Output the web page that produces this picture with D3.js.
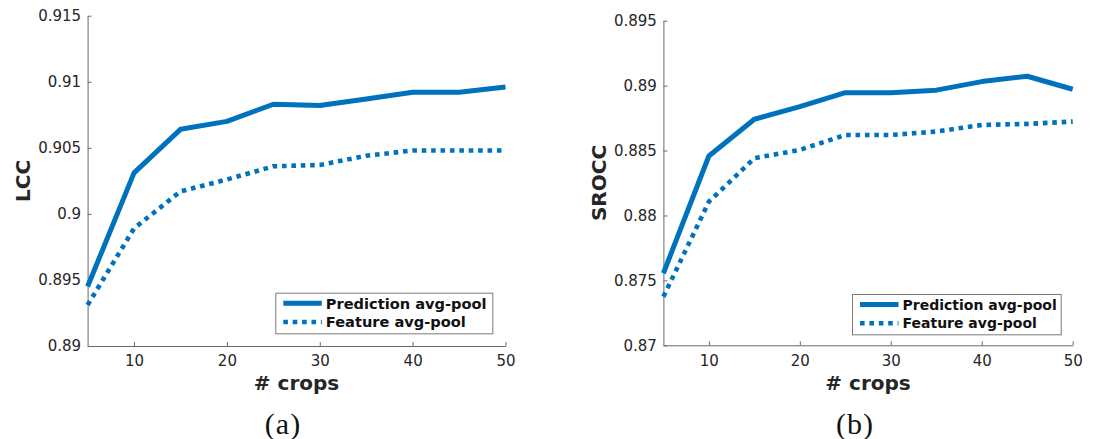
<!DOCTYPE html>
<html>
<head>
<meta charset="utf-8">
<script src="https://cdn.jsdelivr.net/npm/d3@7"></script>
<style>
  html, body { margin: 0; padding: 0; background: #fff; }
  svg { display: block; }
</style>
</head>
<body>
<svg id="chart" width="1093" height="439"></svg>
<script>
// Number of crops evaluated
const crops = [5, 10, 15, 20, 25, 30, 35, 40, 45, 50];

// (a) Linear correlation coefficient
const lccPrediction = [0.8945, 0.9031, 0.9064, 0.9070, 0.9083, 0.9082, 0.9087, 0.9092, 0.9092, 0.9096];
const lccFeature    = [0.8931, 0.8989, 0.9017, 0.9026, 0.9036, 0.9037, 0.9044, 0.9048, 0.9048, 0.9048];

// (b) Spearman rank-order correlation coefficient
const sroccPrediction = [0.87555, 0.88458, 0.88741, 0.88838, 0.88946, 0.88946, 0.88965, 0.89031, 0.89072, 0.88972];
const sroccFeature    = [0.87374, 0.88106, 0.88441, 0.88505, 0.88620, 0.88620, 0.88646, 0.88697, 0.88705, 0.88723];

// Axis ticks and their labels
const xTicks = [10, 20, 30, 40, 50];
const xTickLabels = ["10", "20", "30", "40", "50"];
const lccTicks = [0.89, 0.895, 0.9, 0.905, 0.91, 0.915];
const lccTickLabels = ["0.89", "0.895", "0.9", "0.905", "0.91", "0.915"];
const sroccTicks = [0.87, 0.875, 0.88, 0.885, 0.89, 0.895];
const sroccTickLabels = ["0.87", "0.875", "0.88", "0.885", "0.89", "0.895"];

const seriesNames = ["Prediction avg-pool", "Feature avg-pool"];

const BLUE = "#0072BD";
const TEXT = "#262626";
const AXIS = "#6a6a6a";
const FONT = "'DejaVu Sans', sans-serif";

const svg = d3.select("#chart");

const panels = [
  {
    left: 87.6, right: 505.5, top: 15.7, bottom: 346,
    yDomain: [0.89, 0.915], yTicks: lccTicks, yLabels: lccTickLabels,
    ylabel: "LCC", ylabelX: 29.5,
    series: [lccPrediction, lccFeature],
    legend: { x: 275.3, y: 292.7, w: 217, h: 40.6, font: 14.6 },
    caption: "(a)", captionX: 283
  },
  {
    left: 663.4, right: 1072.7, top: 20.7, bottom: 345.3,
    yDomain: [0.87, 0.895], yTicks: sroccTicks, yLabels: sroccTickLabels,
    ylabel: "SROCC", ylabelX: 606,
    series: [sroccPrediction, sroccFeature],
    legend: { x: 852, y: 294, w: 208.7, h: 40.3, font: 14 },
    caption: "(b)", captionX: 855
  }
];

panels.forEach(p => {
  const x = d3.scaleLinear().domain([5, 50]).range([p.left, p.right]);
  const y = d3.scaleLinear().domain(p.yDomain).range([p.bottom, p.top]);
  const g = svg.append("g");

  // x axis (ticks point inward)
  const xAxis = d3.axisBottom(x)
    .tickValues(xTicks)
    .tickFormat((d, i) => xTickLabels[i])
    .tickSizeInner(-4).tickSizeOuter(0).tickPadding(9.8);
  const gx = g.append("g").attr("transform", `translate(0,${p.bottom})`).call(xAxis);

  // y axis (ticks point inward)
  const yAxis = d3.axisLeft(y)
    .tickValues(p.yTicks)
    .tickFormat((d, i) => p.yLabels[i])
    .tickSizeInner(-4).tickSizeOuter(0).tickPadding(6.5);
  const gy = g.append("g").attr("transform", `translate(${p.left},0)`).call(yAxis);

  [gx, gy].forEach(ax => {
    ax.select(".domain").attr("stroke", AXIS).attr("stroke-width", 1);
    ax.selectAll(".tick line").attr("stroke", AXIS).attr("stroke-width", 1);
    ax.selectAll(".tick text")
      .attr("fill", TEXT)
      .style("font-family", FONT)
      .style("font-size", "15px");
  });

  // data lines
  const line = d3.line()
    .x((d, i) => x(crops[i]))
    .y(d => y(d));

  g.append("path")
    .datum(p.series[0])
    .attr("d", line)
    .attr("fill", "none")
    .attr("stroke", BLUE)
    .attr("stroke-width", 5)
    .attr("stroke-linejoin", "round");

  g.append("path")
    .datum(p.series[1])
    .attr("d", line)
    .attr("fill", "none")
    .attr("stroke", BLUE)
    .attr("stroke-width", 4.6)
    .attr("stroke-dasharray", "4.6,4.8");

  // axis titles
  g.append("text")
    .attr("transform", `translate(${p.ylabelX},${(p.top + p.bottom) / 2}) rotate(-90)`)
    .attr("text-anchor", "middle")
    .attr("fill", TEXT)
    .style("font-family", FONT)
    .style("font-weight", "bold")
    .style("font-size", "20px")
    .text(p.ylabel);

  g.append("text")
    .attr("x", (p.left + p.right) / 2)
    .attr("y", 389.5)
    .attr("text-anchor", "middle")
    .attr("fill", TEXT)
    .style("font-family", FONT)
    .style("font-weight", "bold")
    .style("font-size", "20px")
    .text("# crops");

  // legend
  const L = p.legend;
  const lg = g.append("g");
  lg.append("rect")
    .attr("x", L.x + 0.5).attr("y", L.y + 0.5)
    .attr("width", L.w).attr("height", L.h)
    .attr("fill", "#fff")
    .attr("stroke", "#7a7a7a")
    .attr("stroke-width", 1);

  const rowY = [L.y + 10.6, L.y + 29.3];
  seriesNames.forEach((name, i) => {
    const sample = lg.append("line")
      .attr("x1", L.x + 8).attr("x2", L.x + 46.5)
      .attr("y1", rowY[i]).attr("y2", rowY[i])
      .attr("stroke", BLUE)
      .attr("stroke-width", i === 0 ? 5 : 4.6);
    if (i === 1) sample.attr("stroke-dasharray", "4.6,4.8");
    lg.append("text")
      .attr("x", L.x + 50.5)
      .attr("y", rowY[i])
      .attr("dy", "0.36em")
      .attr("fill", "#111")
      .style("font-family", FONT)
      .style("font-weight", "bold")
      .style("font-size", L.font + "px")
      .text(name);
  });

  // sub-figure caption
  svg.append("text")
    .attr("x", p.captionX)
    .attr("y", 434)
    .attr("text-anchor", "middle")
    .attr("fill", "#111")
    .style("font-family", "'Liberation Serif', serif")
    .style("font-size", "30px")
    .style("letter-spacing", "1px")
    .text(p.caption);
});
</script>
</body>
</html>
